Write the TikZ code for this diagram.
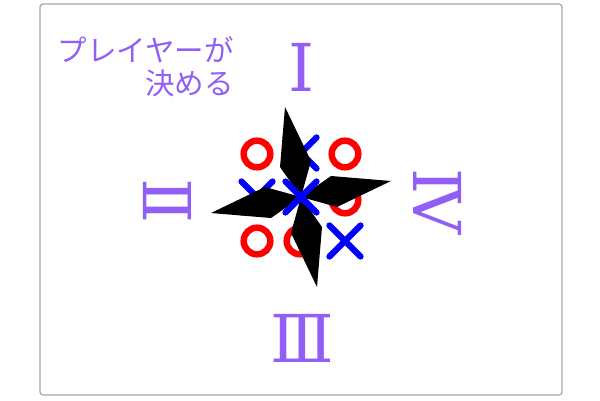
\documentclass[tikz,border=0pt]{standalone}
\usepackage{fontspec}
\newfontfamily\cjk{Noto Sans CJK JP}
\newfontfamily\numfont{DejaVu Serif}
\definecolor{numpurple}{RGB}{145,95,245}
\definecolor{oxred}{RGB}{255,0,0}
\definecolor{oxblue}{RGB}{0,0,255}
\tikzset{
  omark/.style={draw=oxred, line width=6.5pt},
  xmark/.style={draw=oxblue, line width=6.3pt, line cap=round},
  blade/.style={fill=black, draw=none},
  numeral/.style={text=numpurple, inner sep=0pt, font=\numfont\fontsize{66}{66}\selectfont},
  label/.style={text=numpurple, inner sep=0pt, anchor=east, font=\cjk\fontsize{29.5}{29.5}\selectfont}
}
\begin{document}
\begin{tikzpicture}[x=1pt,y=-1pt]
\useasboundingbox (0,0) rectangle (600,400);
\fill[white] (0,0) rectangle (600,400);
\draw[gray!70, line width=1.2pt, rounded corners=3pt] (40,4) rectangle (562,395);

\node[label] (l1) at (234,50) {プレイヤーが};
\node[label] (l2) at (234,83) {決める};

\node[numeral] (n1) at (302,67) {Ⅰ};
\node[numeral, rotate=90] (n2) at (167,201) {Ⅱ};
\node[numeral] (n3) at (302,338) {Ⅲ};
\node[numeral, rotate=-90] (n4) at (438,201) {Ⅳ};

% O marks
\draw[omark] (257,154) circle (13.3);
\draw[omark] (345,154) circle (13.3);
\draw[omark] (345,200) circle (13.3);
\draw[omark] (257,241) circle (13.3);
\draw[omark] (300,241) circle (13.3);

% X marks
\foreach \cx/\cy in {301/153, 257/197, 345/241}{
  \draw[xmark] (\cx-15.5,\cy-15.5) -- (\cx+15.5,\cy+15.5);
  \draw[xmark] (\cx-15.5,\cy+15.5) -- (\cx+15.5,\cy-15.5);
}

% pinwheel blades
\coordinate (c) at (301,197);
\fill[blade] (c) -- (280,167) -- (285,107) -- (311,161) -- cycle;
\fill[blade] (c) -- (331,176) -- (391,181) -- (337,207) -- cycle;
\fill[blade] (c) -- (322,227) -- (317,287) -- (291,233) -- cycle;
\fill[blade] (c) -- (271,218) -- (211,213) -- (265,187) -- cycle;

% centre X on top
\draw[xmark] (301-15.5,197-15.5) -- (301+15.5,197+15.5);
\draw[xmark] (301-15.5,197+15.5) -- (301+15.5,197-15.5);
\end{tikzpicture}
\end{document}
